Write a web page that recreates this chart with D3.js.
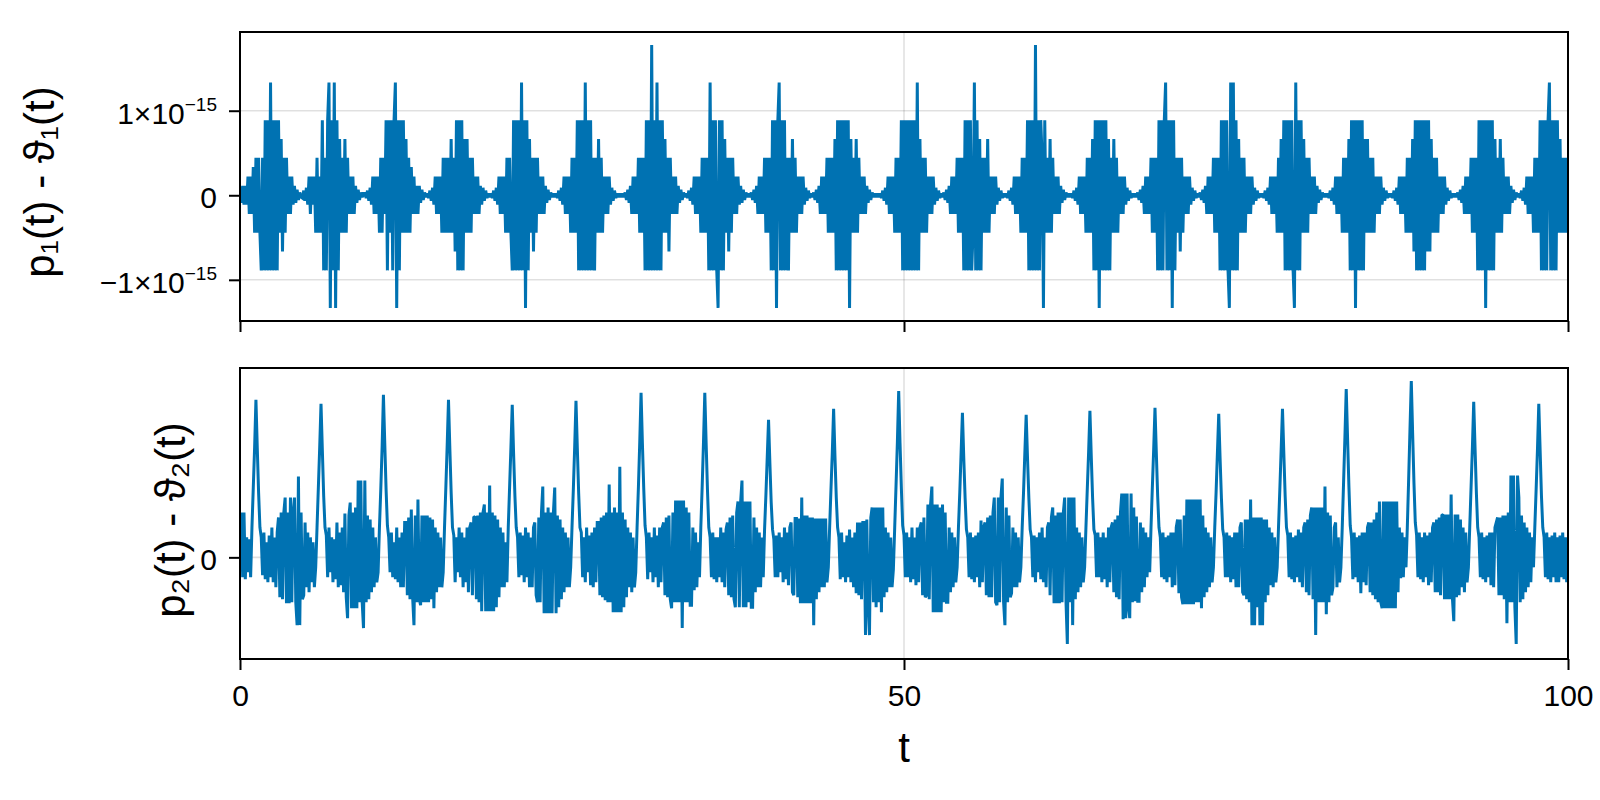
<!DOCTYPE html>
<html>
<head>
<meta charset="utf-8">
<script src="https://cdn.jsdelivr.net/npm/d3@7"></script>
<style>
html, body { margin: 0; padding: 0; background: #ffffff; }
svg { display: block; font-family: "Liberation Sans", Arial, Helvetica, sans-serif; }
</style>
</head>
<body>
<svg id="chart" width="1600" height="800"></svg>
<script>
// ---------------- data ----------------
const EPS = 2.220446049250313e-16;   // p1 values are stored in multiples of machine epsilon
const DT = 0.1;                      // sample spacing in t

const xTicks = [0, 50, 100];
const xTickLabels = ["0", "50", "100"];

const p1Ticks = [-1e-15, 0, 1e-15];
const p1TickMain = ["\u22121\u00d710", "0", "1\u00d710"];
const p1TickSup = ["\u221215", "", "\u221215"];
const p1Domain = [-1.487e-15, 1.931e-15];

const p2Ticks = [0];
const p2TickLabels = ["0"];
const p2Domain = [-1.02, 1.9];

const yLabel1 = "p\u2081(t) - \u03d1\u2081(t)";
const yLabel2 = "p\u2082(t) - \u03d1\u2082(t)";
const xLabel = "t";

// p1(t) - θ1(t): one segment per burst, first sample time of each segment
const p1SegStart = [0.0, 4.7, 9.4, 14.1, 18.9, 23.7, 28.7, 33.6, 38.4, 43.1, 48.0,
                    52.9, 57.7, 62.5, 67.4, 72.2, 77.0, 81.8, 86.7, 91.5, 96.3];
const p1Seg = [
 [0.3,-0.4,0.5,-0.5,0.5,-0.5, 1,-1,1,-1,1.5, -2,2,-2,2,-2, -4,2,-4,4,-4,4,-4,6,-4,4,-4,4,-4,4, -2,3,-3,2,-2,2, -1,1,-1,1,-0.5, 0.5,-0.4,0.3,-0.25,0.15,-0.1],
 [-0.15,0.25,-0.3,0.4,-0.5, 1,-1,1,-0.5,1, -2,2,-2,1,-2, 4,-4,2,-4,4,6,-6,4,-4,6,-6,4,-4,3, -2,2,-2,3,-2,2, -1,1,-1,1,-1, 0.5,-0.4,0.3,-0.25,0.15,-0.1,0.1],
 [0.1,-0.15,0.25,-0.3,0.4,-0.5, 1,-1,1,-1,1, -2,2,-2,2,-1, 4,-4,4,-2,4,-4,4,6,-6,4,-4,4,-2,4, -2,3,-2,2,-2,1.5, -1,1,-1,0.5,-1, 0.5,-0.4,0.3,-0.25,0.15,-0.1],
 [0.1,-0.15,0.25,-0.3,0.4,-0.5, 1,-1,1,-1,1, -2,2,-2,2,-2, 2,-2,3,-2,2,-3,4,-4,4,-4,4,-4,3,-2, 3,-2,2,-2,2,-1, 1,-1,1,-1,0.5, -0.5,0.4,-0.3,0.25,-0.15,0.1,-0.1],
 [0.1,-0.15,0.25,-0.3,0.4,-0.5, 1,-1,1,-1,1, -2,2,-2,2,-2, -4,4,-4,4,-4,4,-4,6,-4,4,-6,4,-4,3, -2,2,-3,2,-2,2, -1,1,-1,1,-1, 0.5,-0.4,0.3,-0.25,0.15,-0.1,0.1],
 [-0.1,0.1,-0.15,0.25,-0.3,0.4,-0.5, 1,-1,1,-1,1, -2,2,-2,2,-2, 4,-4,4,-4,4,-4,6,-4,4,-4,4,-4,2,-4, 2,-2,3,-2,2,-2, 1,-1,1,-1,1, -0.5,0.4,-0.3,0.25,-0.15,0.1,-0.1,0.1],
 [-0.1,0.1,-0.1,0.15,-0.25,0.3,-0.4,0.5, -1,1,-1,1,-1, 2,-2,2,-2,2, -4,4,-4,4,-4,8,-4,4,-4,6,-4,4,-4,4, -2,3,-2,2,-3,2, -1,1,-1,1,-1, 0.5,-0.4,0.3,-0.25,0.15,-0.1],
 [0.1,-0.15,0.25,-0.3,0.4,-0.5, 1,-1,1,-1,1, -2,2,-2,2,-2, 2,-4,6,-4,4,-4,4,-4,-6,4,-4,4,-4,3, -2,2,-3,2,-2,2, -1,1,-1,1,-0.5, 0.5,-0.4,0.3,-0.25,0.15,-0.1,0.1],
 [-0.1,0.15,-0.25,0.3,-0.4,0.5, -1,1,-1,1,-1, 2,-2,2,-2,2, -4,4,-4,4,-6,4,6,-4,4,-4,4,-4,2,-4, 2,-2,3,-2,2,-2, 1,-1,1,-1,1, -0.5,0.4,-0.3,0.25,-0.15,0.1],
 [-0.1,0.15,-0.25,0.3,-0.4,0.5, -1,1,-1,1,-1, 2,-2,2,-2,2, -2,3,-4,4,-4,4,-4,4,-4,4,-4,4,-6,3, -2,2,-2,3,-2,2, -1,1,-1,1,-1, 0.5,-0.4,0.3,-0.25,0.15,-0.1,0.1,-0.1],
 [0.1,-0.1,0.1,-0.15,0.25,-0.3,0.4,-0.5, 1,-1,1,-1,1, -2,2,-2,2,-2, 4,-4,4,-4,4,-4,4,-4,4,-4,4,-4,6,-4, 3,-2,2,-2,2,-2, 1,-1,1,-1,1, -0.5,0.4,-0.3,0.25,-0.15,0.1],
 [-0.1,0.15,-0.25,0.3,-0.4,0.5, -1,1,-1,1,-1, 2,-2,2,-2,2, -4,4,-4,4,-4,4,-4,-2,6,-4,4,-4,3,-4, 2,-2,2,-2,3,-2, 1,-1,1,-1,1, -0.5,0.4,-0.3,0.25,-0.15,0.1,-0.1],
 [0.1,-0.15,0.25,-0.3,0.4,-0.5, 1,-1,1,-1,1, -2,2,-2,2,-2, 4,-4,4,-4,4,-4,8,-4,4,-4,4,2,-6,4, -2,2,-2,3,-2,2, -1,1,-1,1,-1, 0.5,-0.4,0.3,-0.25,0.15,-0.1,0.1],
 [-0.1,0.1,-0.15,0.25,-0.3,0.4,-0.5, 1,-1,1,-1,1, -2,2,-2,2,-2, 3,-4,4,-4,4,-6,4,-4,4,-4,4,-4,3,-4, 2,-2,3,-2,2,-2, 1,-1,1,-1,1, -0.5,0.4,-0.3,0.25,-0.15,0.1,-0.1],
 [0.1,-0.1,0.15,-0.25,0.3,-0.4,0.5, -1,1,-1,1,-1, 2,-2,2,-2,2, -4,4,-4,4,-4,4,6,-4,4,-4,4,-6,4,-4, 2,-2,2,-3,2,-2, 1,-1,1,-1,1, -0.5,0.4,-0.3,0.25,-0.15,0.1],
 [-0.1,0.15,-0.25,0.3,-0.4,0.5, -1,1,-1,1,-1, 2,-2,2,-2,2, -4,4,-4,4,-4,4,-4,-6,6,-4,6,-4,4,-4, 3,-2,2,-2,2,-2, 1,-1,1,-1,1, -0.5,0.4,-0.3,0.25,-0.15,0.1,-0.1],
 [0.1,-0.15,0.25,-0.3,0.4,-0.5, 1,-1,1,-1,1, -2,2,-2,3,-2, 4,-4,4,-4,4,-4,4,-4,-6,6,-4,4,-4,4, -2,3,-2,2,-2,2, -1,1,-1,1,-1, 0.5,-0.4,0.3,-0.25,0.15,-0.1,0.1],
 [-0.1,0.1,-0.15,0.25,-0.3,0.4,-0.5, 1,-1,1,-1,1, -2,2,-2,2,-2, 3,-4,4,-4,4,-6,4,-4,4,-4,4,-4,3,-2, 3,-2,2,-2,2,-2, 1,-1,1,-1,1, -0.5,0.4,-0.3,0.25,-0.15,0.1,-0.1],
 [0.1,-0.15,0.25,-0.3,0.4,-0.5, 1,-1,1,-1,1, -2,2,-2,2,-2, 3,-3,4,-4,4,-4,4,-4,4,-4,4,-3,4,-3, 3,-2,2,-2,2,-2, 1,-1,1,-1,1, -0.5,0.4,-0.3,0.25,-0.15,0.1,-0.1],
 [0.1,-0.1,0.15,-0.25,0.3,-0.4,0.5, -1,1,-1,1,-1, 2,-2,2,-2,2, -4,4,-4,4,-4,4,-6,4,-4,4,-4,4,-4,3, -2,2,-2,3,-2,2, -1,1,-1,1,-1, 0.5,-0.4,0.3,-0.25,0.15,-0.1],
 [0.1,-0.15,0.25,-0.3,0.4,-0.5, 1,-1,1,-1,1, -2,2,-2,2,-2, 4,-4,4,-4,4,-4,4,6,-4,4,-4,4,-4,4, -2,3,-2,2,-2,2, -2,2]
];

// p2(t) - θ2(t): one segment per peak-to-peak cycle, first sample time of each segment
const p2SegStart = [0.0, 1.2, 6.1, 10.8, 15.7, 20.5, 25.3, 30.2, 35.0, 39.8, 44.7,
                    49.6, 54.4, 59.2, 64.0, 68.9, 73.7, 78.5, 83.3, 88.2, 92.9, 97.8];
const p2Seg = [
 [0.15,0.45,-0.2,0.45,-0.22,0.2,-0.15,0.18,-0.2,0.3,0.7,1.1],
 [1.58,1.1,0.65,0.3, 0.2,-0.18,0.25,-0.22,0.15,-0.25,0.22,-0.2,0.3,-0.25,0.2,-0.3,0.25, 0.4,-0.4,0.45,-0.42,0.45,0.6,-0.46,0.45,-0.46,0.6,-0.45,0.45,0.6,-0.45,-0.68,0.81,-0.68,0.45,-0.42,-0.38,0.35, -0.3,0.25,-0.35,0.2,-0.25,0.15,-0.3,-0.1, 0.3,0.7,1.1],
 [1.54,1.08,0.62,0.3, 0.22,-0.2,0.3,-0.15,0.2,-0.25,0.18,-0.22,0.35,-0.3,0.25,-0.28,0.3, -0.35,0.44,-0.4,-0.61,0.42,0.55,-0.51,0.45,-0.51,0.5,-0.51,0.77,-0.45,0.77,-0.45,-0.71,0.77,-0.45,0.42,-0.42,0.38, -0.35,0.3,-0.3,0.2,-0.25,-0.15, 0.3,0.68,1.1],
 [1.63,1.15,0.68,0.32, 0.2,-0.15,0.25,-0.2,0.15,-0.22,0.3,-0.25,0.2,-0.3,0.25,-0.3,0.35, 0.35,-0.38,0.4,-0.42,0.48,-0.4,-0.68,0.42,-0.45,0.58,-0.42,-0.48,0.42,-0.45,0.42,-0.45,0.42,-0.45,0.4,-0.42,0.38, -0.51,0.3,-0.35,0.25,-0.3,0.2,-0.3,-0.15, 0.3,0.7,1.12],
 [1.58,1.1,0.65,0.3, 0.22,-0.25,0.2,-0.15,0.3,-0.2,0.25,-0.3,0.2,-0.25,0.3,-0.35,0.3, 0.35,-0.38,0.4,0.41,-0.42,0.42,-0.45,0.45,-0.54,0.45,0.53,-0.54,0.45,-0.54,0.72,-0.54,0.45,-0.54,0.42,-0.5,0.38, -0.4,0.3,-0.3,0.25,-0.3,0.15,-0.25, 0.3,0.7,1.1],
 [1.53,1.05,0.62,0.3, 0.2,-0.2,0.25,-0.18,0.22,-0.25,0.3,-0.2,0.25,-0.3,0.2,-0.3,0.3, 0.35,-0.38,-0.45,0.4,-0.45,0.45,0.71,-0.56,0.45,-0.56,0.5,-0.56,0.45,-0.56,0.45,0.7,-0.56,0.42,-0.5,0.38,-0.42, 0.3,-0.35,0.25,-0.3,0.2,-0.3,-0.1, 0.3,0.68,1.1],
 [1.57,1.1,0.65,0.3, 0.25,-0.2,0.2,-0.25,0.3,-0.15,0.22,-0.28,0.25,-0.3,0.3,-0.25,0.35, 0.35,-0.38,0.4,-0.4,0.42,-0.43,0.45,-0.45,0.73,-0.45,0.45,-0.55,0.5,-0.55,0.45,-0.55,0.91,-0.55,0.45,-0.5,0.38, -0.4,0.3,-0.3,0.25,-0.35,0.2,-0.3,-0.15, 0.3,0.7,1.15],
 [1.65,1.15,0.7,0.32, 0.2,-0.22,0.25,-0.15,0.2,-0.25,0.3,-0.2,0.22,-0.3,0.3,-0.25,0.3, 0.35,-0.38,0.4,-0.4,0.42,-0.42,-0.51,0.45,-0.45,0.57,-0.45,0.57,-0.45,0.57,-0.71,0.57,-0.45,0.5,-0.45,0.45,-0.48, -0.48,0.3,-0.33,0.25,-0.3,0.15,-0.2, 0.3,0.7,1.15],
 [1.65,1.15,0.68,0.3, 0.2,-0.2,0.25,-0.22,0.2,-0.25,0.2,-0.2,0.3,-0.25,0.25,-0.3,0.28, 0.35,-0.38,0.4,-0.4,0.42,-0.42,-0.5,0.45,0.56,-0.5,0.56,0.77,-0.5,0.56,-0.5,0.56,-0.45,0.56,-0.5,-0.5,0.4, -0.35,0.3,-0.3,0.25,-0.3,0.2,-0.2, 0.28,0.62,1.0],
 [1.38,0.95,0.55,0.28, 0.18,-0.2,0.22,-0.2,0.25,-0.15,0.2,-0.25,0.3,-0.22,0.25,-0.28,0.3, 0.35,-0.35,-0.38,0.39,0.39,-0.4,0.39,-0.46,0.6,-0.46,0.42,-0.46,0.42,-0.46,0.4,-0.46,0.4,-0.68,0.39,-0.42,0.39, -0.35,0.39,-0.3,0.39,-0.3,0.39,-0.25,-0.1, 0.3,0.68,1.05],
 [1.49,1.02,0.6,0.3, 0.2,-0.22,0.25,-0.2,0.15,-0.25,0.22,-0.2,0.28,-0.25,0.2,-0.3,0.25, -0.36,0.35,-0.38,0.35,-0.42,0.35,0.35,-0.78,0.38,-0.45,-0.78,0.4,0.5,-0.45,0.5,-0.5,0.5,-0.45,0.5,-0.55,0.5, -0.4,0.3,-0.35,0.25,-0.3,0.2,-0.3,-0.12, 0.3,0.72,1.15],
 [1.67,1.15,0.7,0.32, 0.22,-0.2,0.25,-0.2,0.2,-0.25,0.3,-0.22,0.2,-0.28,0.3,-0.25,0.3, 0.35,-0.38,0.4,-0.4,-0.38,0.53,-0.42,0.53,0.71,-0.55,0.53,-0.55,0.53,-0.55,0.5,-0.55,0.53,-0.45,0.45,-0.45,-0.45, 0.3,-0.35,0.25,-0.3,0.2,-0.25,-0.1, 0.3,0.65,1.05],
 [1.45,1.0,0.6,0.28, 0.2,-0.2,0.25,-0.22,0.2,-0.25,0.22,-0.2,0.25,-0.3,0.37,-0.25,0.3, 0.35,-0.38,0.4,-0.4,0.42,-0.4,0.45,0.6,-0.45,-0.48,0.6,-0.45,0.6,0.79,-0.45,-0.68,0.5,-0.45,0.42,-0.4,-0.36, 0.3,-0.3,0.25,-0.3,0.2,-0.25,-0.1, 0.3,0.65,1.05],
 [1.43,1.0,0.6,0.28, 0.2,-0.2,0.22,-0.25,0.2,-0.15,0.25,-0.22,0.3,-0.25,0.2,-0.3,0.3, 0.35,-0.38,0.4,0.5,-0.46,0.42,-0.46,0.45,-0.46,0.45,-0.45,0.45,0.6,-0.45,-0.87,0.6,-0.45,0.6,-0.68,0.6,-0.42, 0.3,-0.35,0.25,-0.3,0.2,-0.25,-0.1, 0.3,0.68,1.05],
 [1.47,1.02,0.6,0.28, 0.22,-0.2,0.25,-0.2,0.2,-0.25,0.25,-0.22,0.2,-0.3,0.3,-0.25,0.3, 0.35,-0.35,0.38,-0.4,0.42,-0.42,0.45,0.64,-0.62,0.64,-0.61,0.64,-0.5,-0.61,0.64,-0.45,0.5,-0.44,0.41,-0.44,-0.44, 0.35,-0.35,0.3,-0.3,0.25,-0.2,0.2,-0.15, 0.3,0.7,1.08],
 [1.5,1.05,0.62,0.3, 0.2,-0.2,0.25,-0.22,0.2,-0.25,0.22,-0.2,0.25,-0.3,0.25,-0.28,0.3, 0.38,-0.36,0.38,-0.4,-0.47,0.42,-0.47,0.58,-0.47,0.58,-0.47,0.58,-0.47,0.58,-0.45,0.58,-0.45,0.58,-0.51,0.42,-0.4, 0.3,-0.35,0.25,-0.3,0.2,-0.25,-0.1, 0.3,0.65,1.05],
 [1.44,1.0,0.6,0.28, 0.2,-0.2,0.25,-0.2,0.22,-0.25,0.2,-0.22,0.25,-0.3,0.25,-0.3,0.3, 0.35,-0.35,-0.38,0.38,-0.42,0.38,-0.45,0.58,-0.68,0.4,-0.68,0.4,-0.5,0.4,-0.68,0.4,-0.68,0.38,-0.45,0.38,-0.38, 0.3,-0.28,0.25,-0.3,0.2,-0.25,-0.1, 0.3,0.68,1.08],
 [1.49,1.05,0.62,0.3, 0.22,-0.2,0.25,-0.22,0.2,-0.25,0.22,-0.2,0.28,-0.25,0.25,-0.3,0.3, 0.35,-0.35,0.38,-0.38,0.42,0.5,-0.42,0.5,-0.78,0.5,-0.45,0.5,-0.45,0.5,-0.45,0.71,-0.57,0.45,-0.45,0.42,-0.38, -0.3,0.3,0.35,-0.3,0.2,-0.25,-0.1, 0.3,0.75,1.2],
 [1.69,1.2,0.72,0.32, 0.2,-0.22,0.25,-0.2,0.2,-0.25,0.22,-0.36,0.25,-0.25,0.25,-0.28,0.3, 0.35,-0.35,0.35,-0.38,0.38,-0.42,0.45,-0.45,0.56,-0.45,-0.51,0.56,-0.51,0.56,-0.51,0.56,-0.51,0.56,-0.51,0.56,-0.51, 0.56,-0.35,0.3,-0.21,0.25,-0.2,0.2,-0.1, 0.3,0.78,1.28],
 [1.77,1.25,0.75,0.35, 0.22,-0.2,0.25,-0.22,0.2,-0.25,0.25,-0.2,0.22,-0.28,0.25,-0.25,0.3, 0.35,-0.35,0.38,-0.35,0.4,-0.38,0.42,0.43,-0.42,0.43,-0.42,0.43,-0.42,0.63,-0.42,-0.64,0.43,-0.4,0.43,-0.38,0.38, -0.3,0.3,-0.35,0.25,-0.25,-0.1, 0.3,0.7,1.1],
 [1.56,1.1,0.65,0.3, 0.2,-0.2,0.25,-0.22,0.2,-0.25,0.22,-0.2,0.25,-0.28,0.25,-0.3,0.3, 0.35,0.4,-0.38,0.4,-0.38,0.42,-0.42,0.42,-0.66,0.45,-0.45,0.82,-0.45,0.82,-0.5,-0.87,0.82,0.6,-0.45,0.42,-0.42, 0.35,-0.35,0.3,-0.3,0.25,-0.25,0.2,-0.1, 0.3,0.68,1.08],
 [1.54,1.08,0.62,0.3, 0.2,-0.2,0.25,-0.22,0.2,-0.25,0.22,-0.2,0.25,-0.25,0.2,-0.25,0.22,-0.2,0.25,-0.22,0.2,-0.25,0.2]
];

// ---------------- drawing ----------------
function flatten(starts, segs) {
  const out = [];
  segs.forEach((seg, k) => seg.forEach((v, j) => out.push({ t: +(starts[k] + j * DT).toFixed(3), v: v })));
  return out;
}
const p1Data = flatten(p1SegStart, p1Seg).map(d => ({ t: d.t, v: d.v * EPS }));
const p2Data = flatten(p2SegStart, p2Seg);

const svg = d3.select("#chart");
const L = 240, R = 1568;
const panels = [
  { top: 32, bottom: 321, domain: p1Domain, data: p1Data, ticks: p1Ticks, label: yLabel1, labelX: 54, labelY: 182, xLabels: false },
  { top: 368, bottom: 659, domain: p2Domain, data: p2Data, ticks: p2Ticks, label: yLabel2, labelX: 185, labelY: 520, xLabels: true }
];
const x = d3.scaleLinear().domain([0, 100]).range([L, R]);
const LINE = "#0072b2";
const GRID = "rgba(0,0,0,0.12)";
const TICK_FONT = 30, LABEL_FONT = 42;

panels.forEach((p, pi) => {
  const y = d3.scaleLinear().domain(p.domain).range([p.bottom, p.top]);
  const g = svg.append("g");

  const cid = "clip" + pi;
  svg.append("clipPath").attr("id", cid).append("rect")
    .attr("x", L).attr("y", p.top).attr("width", R - L).attr("height", p.bottom - p.top);

  // grid
  g.selectAll(".hg").data(p.ticks).join("line")
    .attr("x1", L).attr("x2", R).attr("y1", d => y(d)).attr("y2", d => y(d))
    .attr("stroke", GRID).attr("stroke-width", 1.6);
  g.selectAll(".vg").data(xTicks).join("line")
    .attr("x1", d => x(d)).attr("x2", d => x(d)).attr("y1", p.top).attr("y2", p.bottom)
    .attr("stroke", GRID).attr("stroke-width", 1.6);

  // data line
  const line = d3.line().x(d => x(d.t)).y(d => y(d.v));
  g.append("path").datum(p.data)
    .attr("clip-path", `url(#${cid})`)
    .attr("d", line)
    .attr("fill", "none")
    .attr("stroke", LINE)
    .attr("stroke-width", 3)
    .attr("stroke-linejoin", "miter")
    .attr("stroke-miterlimit", 2);

  // frame
  g.append("rect").attr("x", L).attr("y", p.top).attr("width", R - L).attr("height", p.bottom - p.top)
    .attr("fill", "none").attr("stroke", "#000").attr("stroke-width", 2);

  // y axis
  const ya = g.append("g").attr("transform", `translate(${L},0)`)
    .call(d3.axisLeft(y).tickValues(p.ticks).tickSize(11).tickSizeOuter(0).tickPadding(12).tickFormat(() => ""));
  ya.select(".domain").remove();
  ya.selectAll(".tick line").attr("stroke", "#000").attr("stroke-width", 2);
  ya.selectAll(".tick text")
    .attr("font-size", TICK_FONT).attr("fill", "#000").attr("dy", "0.42em")
    .attr("font-family", '"Liberation Sans", Arial, sans-serif')
    .each(function (d, i) {
      const t = d3.select(this);
      t.text(null);
      if (pi === 0) {
        t.append("tspan").text(p1TickMain[i]);
        if (p1TickSup[i]) t.append("tspan").attr("dy", -13).attr("font-size", 19).text(p1TickSup[i]);
      } else {
        t.append("tspan").text(p2TickLabels[i]);
      }
    });

  // x axis
  const xa = g.append("g").attr("transform", `translate(0,${p.bottom})`)
    .call(d3.axisBottom(x).tickValues(xTicks).tickSize(11).tickSizeOuter(0).tickPadding(15)
      .tickFormat((d, i) => p.xLabels ? xTickLabels[i] : ""));
  xa.select(".domain").remove();
  xa.selectAll(".tick line").attr("stroke", "#000").attr("stroke-width", 2);
  xa.selectAll(".tick text").attr("font-size", TICK_FONT).attr("fill", "#000")
    .attr("font-family", '"Liberation Sans", Arial, sans-serif');

  // y label
  svg.append("text")
    .attr("transform", `translate(${p.labelX},${p.labelY}) rotate(-90)`)
    .attr("text-anchor", "middle")
    .attr("font-size", LABEL_FONT)
    .attr("fill", "#000")
    .text(p.label);
});

svg.append("text")
  .attr("x", x(50)).attr("y", 762)
  .attr("text-anchor", "middle")
  .attr("font-size", LABEL_FONT)
  .attr("fill", "#000")
  .text(xLabel);
</script>
</body>
</html>
